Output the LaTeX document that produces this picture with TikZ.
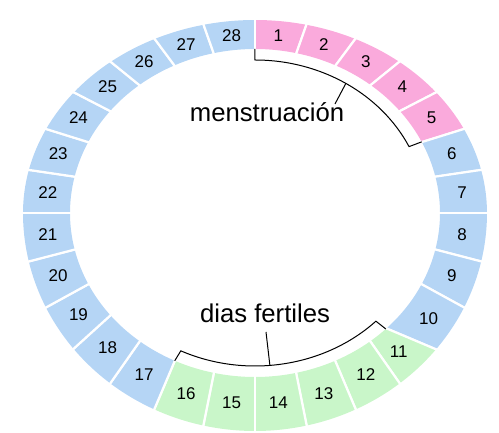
\documentclass[tikz,border=0pt]{standalone}
\usepackage{fontspec}
\setmainfont{Liberation Sans}
\usepackage{tikz}
\usetikzlibrary{positioning}
\definecolor{dayblue}{RGB}{181,213,245}
\definecolor{daypink}{RGB}{250,170,220}
\definecolor{daygreen}{RGB}{201,246,201}

\begin{document}
\begin{tikzpicture}[x=1pt, y=1pt,
	daynum/.style={font=\fontsize{17}{20}\selectfont, inner sep=0pt},
	phase/.style={font=\fontsize{25.7}{30}\selectfont, inner sep=0pt},
	brace/.style={draw=black, line width=1pt},
	gap/.style={draw=white, line width=2.2pt}]
	\useasboundingbox (-255,-220) rectangle (244,213);
	\foreach \k in {1,...,28} {
		\pgfmathsetmacro\ta{90-(\k-1)*360/28}
		\pgfmathsetmacro\tb{90-\k*360/28}
		\pgfmathsetmacro\ia{\k==11 ? -45 : \ta}
		\pgfmathsetmacro\ib{\k==10 ? -45 : \tb}
		\pgfmathsetmacro\ry{(\k<8 || \k>21) ? 193 : 218}
		\ifnum\k<6 \def\col{daypink}\else\ifnum\k>10 \ifnum\k<17 \def\col{daygreen}\else\def\col{dayblue}\fi\else\def\col{dayblue}\fi\fi
		\fill[\col] (\ia:185 and 164) -- (\ta:232 and \ry) arc[start angle=\ta, end angle=\tb, x radius=232, y radius=\ry]
			-- (\ib:185 and 164) arc[start angle=\ib, end angle=\ia, x radius=185, y radius=164] -- cycle;
		\draw[gap] (\ia:183 and 162) -- (\ta:234 and \ry+2);
		\draw[gap] (\ib:183 and 162) -- (\tb:234 and \ry+2);
	}
	\foreach \k in {1,...,28} {
		\pgfmathsetmacro\ta{90-(\k-1)*360/28}
		\pgfmathsetmacro\tb{90-\k*360/28}
		\pgfmathsetmacro\ia{\k==11 ? -45 : \ta}
		\pgfmathsetmacro\ib{\k==10 ? -45 : \tb}
		\pgfmathsetmacro\ry{(\k<8 || \k>21) ? 193 : 218}
		\pgfmathsetmacro\nx{(185*cos((\ia+\ib)/2)+232*cos((\ta+\tb)/2))/2}
		\pgfmathsetmacro\ny{(164*sin((\ia+\ib)/2)+\ry*sin((\ta+\tb)/2))/2}
		\node[daynum] (d\k) at (\nx,\ny) {\k};
	}

	\draw[brace] (90:185 and 164) -- (90:171 and 153)
		arc[start angle=90, end angle=25.71, x radius=171, y radius=153] -- (25.71:185 and 164);
	\coordinate (mmid) at (57.9:171 and 153);
	\coordinate (mtip) at (80,109);
	\draw[brace] (mmid) -- (mtip);
	\node[phase, anchor=base] (mens) at (12,91) {menstruación};

	\draw[brace] (-115.71:185 and 164) -- (-115.71:171 and 153)
		arc[start angle=-115.71, end angle=-45, x radius=171, y radius=153] -- (-45:185 and 164);
	\coordinate (fmid) at (-85:171 and 153);
	\coordinate (ftip) at (11,-119);
	\draw[brace] (fmid) -- (ftip);
	\node[phase, anchor=base] (fert) at (10,-110) {dias fertiles};
\end{tikzpicture}
\end{document}
